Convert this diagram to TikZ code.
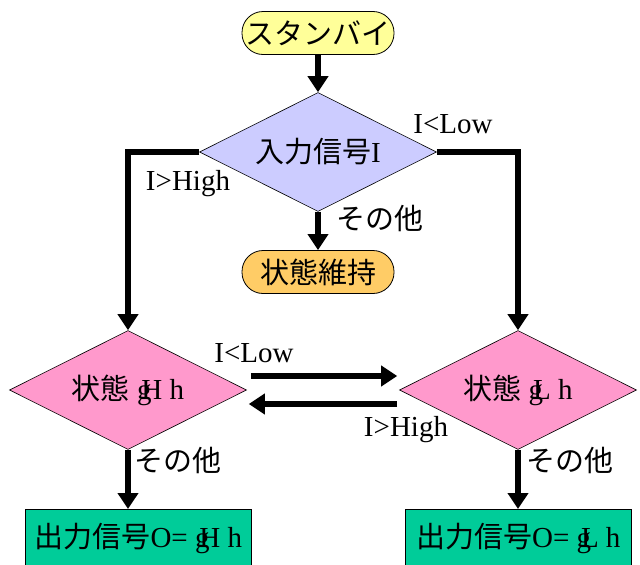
\documentclass[tikz,border=0pt]{standalone}
\usepackage{fontspec}
\setmainfont{Liberation Serif}
\newfontfamily\jp{Noto Sans CJK JP}
\usetikzlibrary{shapes.geometric,arrows.meta}
\definecolor{pillyellow}{HTML}{FFFF99}
\definecolor{lav}{HTML}{CCCCFF}
\definecolor{pillorange}{HTML}{FFCC66}
\definecolor{pinkdia}{HTML}{FF99CC}
\definecolor{outgreen}{HTML}{00CC99}
\begin{document}
\begin{tikzpicture}[x=1pt,y=-1pt,
  every node/.style={font=\fontsize{29}{32}\selectfont},
  pill/.style={draw,rounded corners=21pt,minimum width=152pt,minimum height=43pt,inner sep=0pt,line width=0.8pt},
  dec/.style={draw,diamond,aspect=2,minimum width=237pt,minimum height=119pt,inner sep=0pt,line width=0.6pt},
  outbox/.style={draw,rectangle,minimum width=226pt,minimum height=58pt,inner sep=0pt,line width=0.6pt,anchor=north west},
  flow/.style={line width=6pt,line join=miter,-{Triangle[width=20pt,length=16pt]}},
  lbl/.style={inner sep=0pt}]
\useasboundingbox (0,0) rectangle (640,565);

\node[pill,fill=pillyellow] (sb) at (318,33) {\jp スタンバイ};
\node[dec,fill=lav] (d1) at (318,152) {{\jp 入力信号}I};
\node[pill,fill=pillorange] (hold) at (318,272) {\jp 状態維持};
\node[dec,fill=pinkdia] (dh) at (128,390) {{\jp 状態} g\kern-.35em H h};
\node[dec,fill=pinkdia] (dl) at (518,390) {{\jp 状態} g\kern-.35em L h};
\node[outbox,fill=outgreen] (oh) at (25,509) {{\jp 出力信号}O= g\kern-.35em H h};
\node[outbox,fill=outgreen] (ol) at (405,509) {{\jp 出力信号}O= g\kern-.35em L h};

\draw[flow] (sb) -- (d1);
\draw[flow] (d1.west) -| (dh.north);
\draw[flow] (d1.east) -| (dl.north);
\draw[flow] (d1.south) -- (hold.north);
\draw[flow] (dh.south) -- (dh.south |- oh.north);
\draw[flow] (dl.south) -- (dl.south |- ol.north);
\draw[flow] ([xshift=4pt,yshift=14pt]dh.east) -- ([xshift=-2pt,yshift=14pt]dl.west);
\draw[flow] ([xshift=-2pt,yshift=-14pt]dl.west) -- ([xshift=2pt,yshift=-14pt]dh.east);

\node[lbl] (l1) at (453,124) {I<Low};
\node[lbl] (l2) at (188,184) {I>High};
\node[lbl] (l3) at (380,218) {\jp その他};
\node[lbl] (l4) at (254,353) {I<Low};
\node[lbl] (l5) at (406,430) {I>High};
\node[lbl] (l6) at (178,460) {\jp その他};
\node[lbl] (l7) at (570,460) {\jp その他};
\end{tikzpicture}
\end{document}
